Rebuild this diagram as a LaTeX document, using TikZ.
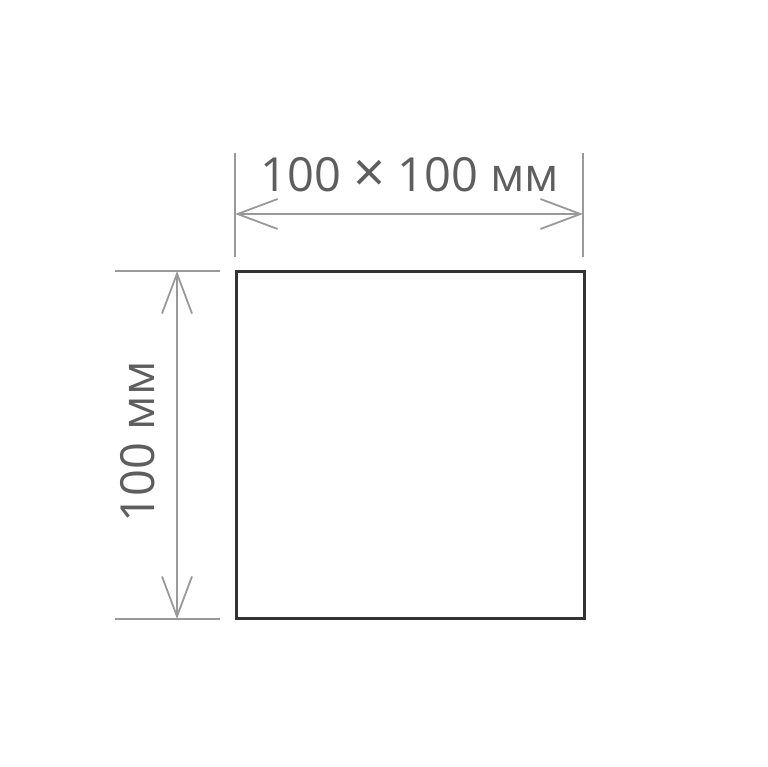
\documentclass[tikz,border=0pt]{standalone}
\usepackage{fontspec}
\setmainfont{Open Sans}
\usetikzlibrary{arrows.meta}
\definecolor{dimgray}{HTML}{999999}
\definecolor{txtgray}{HTML}{5E5E5E}
\definecolor{boxgray}{HTML}{333333}
\tikzset{
  ext/.style={draw=dimgray, line width=1.8pt},
  dimline/.style={draw=dimgray, line width=2pt, {Straight Barb[length=40pt,width=30pt,line width=1.8pt]}-{Straight Barb[length=40pt,width=30pt,line width=1.8pt]}},
  lbl/.style={text=txtgray, font=\fontsize{47}{52}\selectfont, inner sep=0pt},
  boxsq/.style={draw=boxgray, line width=3pt, minimum width=348pt, minimum height=347pt, inner sep=0pt}
}
\begin{document}
\begin{tikzpicture}[x=1pt,y=-1pt]
\useasboundingbox (0,0) rectangle (767,767);
\node[boxsq] (sq) at (410,444.5) {};
% top extension lines
\coordinate (t1a) at (235,153);
\coordinate (t1b) at (235,257);
\coordinate (t2a) at (583,153);
\coordinate (t2b) at (583,257);
\draw[ext] (t1a) -- (t1b);
\draw[ext] (t2a) -- (t2b);
\coordinate (tda) at (235,214);
\coordinate (tdb) at (583,214);
\draw[dimline] (tda) -- (tdb);
\node[lbl] (tl) at (410,175) {100 {\fontsize{56}{56}\selectfont\raisebox{-0.6pt}{×}} 100 мм};
% left extension lines
\coordinate (l1a) at (115,271);
\coordinate (l1b) at (220,271);
\coordinate (l2a) at (115,619);
\coordinate (l2b) at (220,619);
\draw[ext] (l1a) -- (l1b);
\draw[ext] (l2a) -- (l2b);
\coordinate (lda) at (177,271);
\coordinate (ldb) at (177,619);
\draw[dimline] (lda) -- (ldb);
\node[lbl, rotate=90] (ll) at (138,442) {100 мм};
\end{tikzpicture}
\end{document}
